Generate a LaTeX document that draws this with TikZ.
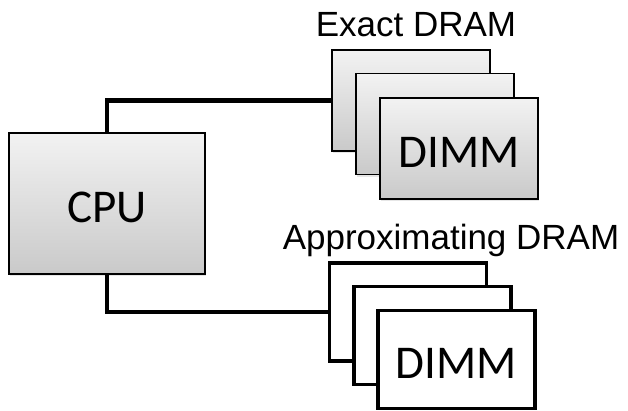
\documentclass[tikz,border=0pt]{standalone}
\usepackage{fontspec}
\setmainfont{Liberation Sans}
\newfontfamily\calibrifont{Carlito}
\usepackage{tikz}
\usetikzlibrary{shadows}

\tikzset{
  exactbox/.style={draw=black,line width=1.6pt,minimum width=158pt,minimum height=101pt,inner sep=0pt,
    top color=gray!10,bottom color=gray!42,
    drop shadow={opacity=0.2,shadow xshift=1pt,shadow yshift=-2pt},
    font=\calibrifont\fontsize{47}{50}\selectfont,text height=38pt,text depth=0pt},
  approxbox/.style={draw=black,line width=3.8pt,minimum width=157pt,minimum height=98pt,inner sep=0pt,fill=white,
    font=\calibrifont\fontsize{47}{50}\selectfont,text height=38pt,text depth=0pt},
  buswire/.style={line width=4.8pt,black},
  grouplabel/.style={font=\fontsize{35}{40}\selectfont,inner sep=0pt}
}

\begin{document}
\begin{tikzpicture}[x=1pt,y=-1pt]
  \useasboundingbox (0,0) rectangle (628,410);

  % processor
  \node[exactbox,minimum width=196pt,minimum height=141pt] (cpu) at (107,203.5) {CPU};

  % exact memory
  \node[grouplabel] (exactlabel) at (416,25) {Exact DRAM};
  \node[exactbox] (ex1) at (411,100.5) {};
  \node[exactbox] (ex2) at (435,124) {};
  \node[exactbox] (ex3) at (459,148.5) {DIMM};

  % approximating memory
  \node[grouplabel] (approxlabel) at (451,240) {Approximating DRAM};
  \node[approxbox] (ap1) at (408,312) {};
  \node[approxbox] (ap2) at (432.5,335.5) {};
  \node[approxbox] (ap3) at (456.5,359.5) {DIMM};

  % buses
  \draw[buswire] (cpu.north) |- (ex1.west);
  \draw[buswire] (cpu.south) |- (ap1.west);
\end{tikzpicture}
\end{document}
